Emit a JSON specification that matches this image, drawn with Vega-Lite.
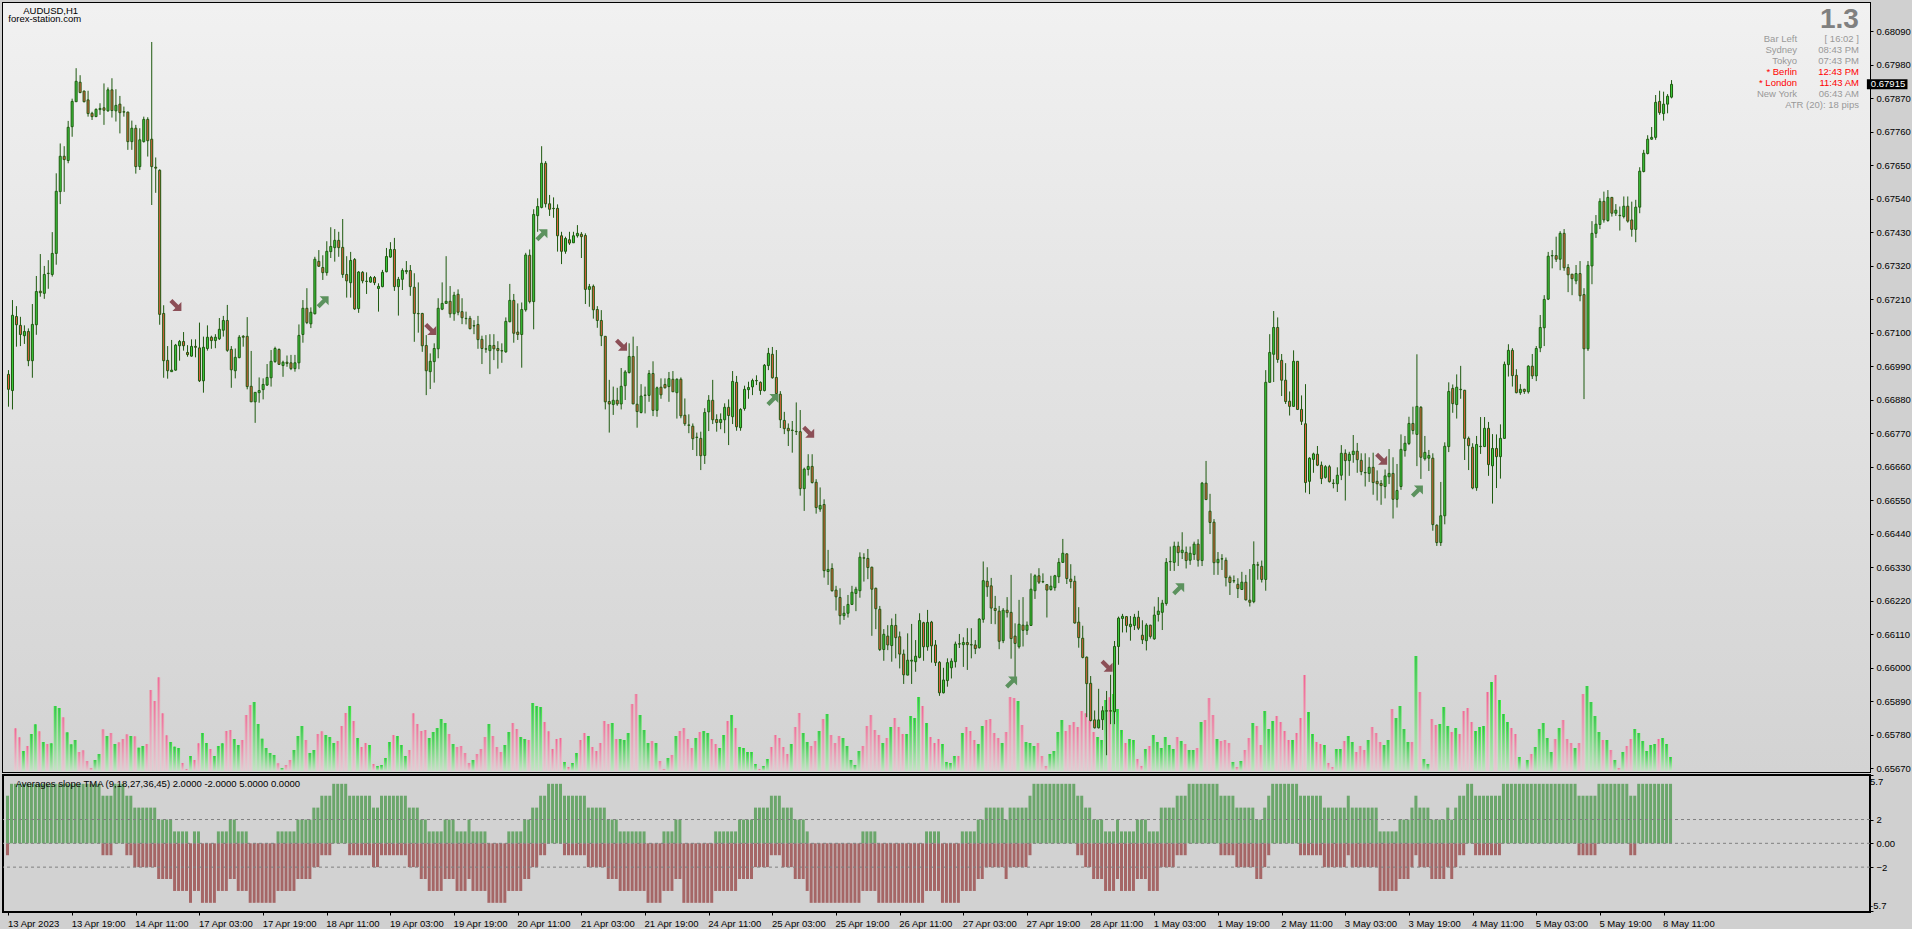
{"$schema":"https://vega.github.io/schema/vega-lite/v6.json","background":"#D0D0D0","padding":{"left":1,"top":2,"right":0,"bottom":0},"bounds":"flush","spacing":3,
"config":{"view":{"stroke":"#000000","strokeWidth":2},"font":"Liberation Sans","axis":{"labelOverlap":false}},
"datasets":{"d":[
{"i":0,"o":0.66963,"h":0.66977,"l":0.66857,"c":0.66914,"v":0,"u":4,"d":-1},
{"i":1,"o":0.66910,"h":0.67207,"l":0.66848,"c":0.67157,"v":0,"u":5,"d":0},
{"i":2,"o":0.67153,"h":0.67187,"l":0.67054,"c":0.67126,"v":127,"u":5,"d":0},
{"i":3,"o":0.67124,"h":0.67152,"l":0.67056,"c":0.67094,"v":100,"u":5,"d":0},
{"i":4,"o":0.67090,"h":0.67124,"l":0.67063,"c":0.67104,"v":59,"u":5,"d":0},
{"i":5,"o":0.67104,"h":0.67114,"l":0.66990,"c":0.67008,"v":74,"u":5,"d":0},
{"i":6,"o":0.67008,"h":0.67194,"l":0.66952,"c":0.67127,"v":110,"u":5,"d":0},
{"i":7,"o":0.67126,"h":0.67286,"l":0.67093,"c":0.67235,"v":139,"u":5,"d":0},
{"i":8,"o":0.67236,"h":0.67358,"l":0.67218,"c":0.67231,"v":118,"u":5,"d":0},
{"i":9,"o":0.67229,"h":0.67319,"l":0.67211,"c":0.67291,"v":86,"u":5,"d":0},
{"i":10,"o":0.67295,"h":0.67338,"l":0.67244,"c":0.67294,"v":80,"u":5,"d":0},
{"i":11,"o":0.67291,"h":0.67430,"l":0.67284,"c":0.67360,"v":82,"u":5,"d":0},
{"i":12,"o":0.67360,"h":0.67623,"l":0.67323,"c":0.67564,"v":194,"u":5,"d":0},
{"i":13,"o":0.67563,"h":0.67721,"l":0.67522,"c":0.67679,"v":188,"u":5,"d":0},
{"i":14,"o":0.67679,"h":0.67712,"l":0.67562,"c":0.67668,"v":160,"u":5,"d":0},
{"i":15,"o":0.67665,"h":0.67795,"l":0.67656,"c":0.67774,"v":115,"u":5,"d":0},
{"i":16,"o":0.67776,"h":0.67868,"l":0.67743,"c":0.67859,"v":79,"u":5,"d":0},
{"i":17,"o":0.67858,"h":0.67968,"l":0.67858,"c":0.67925,"v":92,"u":5,"d":0},
{"i":18,"o":0.67922,"h":0.67945,"l":0.67886,"c":0.67888,"v":56,"u":5,"d":0},
{"i":19,"o":0.67893,"h":0.67894,"l":0.67856,"c":0.67858,"v":61,"u":5,"d":0},
{"i":20,"o":0.67864,"h":0.67894,"l":0.67809,"c":0.67819,"v":29,"u":5,"d":0},
{"i":21,"o":0.67820,"h":0.67825,"l":0.67798,"c":0.67809,"v":8,"u":5,"d":0},
{"i":22,"o":0.67809,"h":0.67836,"l":0.67808,"c":0.67833,"v":32,"u":5,"d":0},
{"i":23,"o":0.67832,"h":0.67853,"l":0.67815,"c":0.67836,"v":50,"u":5,"d":0},
{"i":24,"o":0.67838,"h":0.67918,"l":0.67782,"c":0.67830,"v":124,"u":4,"d":-1},
{"i":25,"o":0.67828,"h":0.67905,"l":0.67825,"c":0.67897,"v":104,"u":4,"d":-1},
{"i":26,"o":0.67897,"h":0.67935,"l":0.67806,"c":0.67829,"v":113,"u":4,"d":-1},
{"i":27,"o":0.67828,"h":0.67899,"l":0.67793,"c":0.67846,"v":80,"u":5,"d":0},
{"i":28,"o":0.67850,"h":0.67877,"l":0.67754,"c":0.67822,"v":85,"u":5,"d":0},
{"i":29,"o":0.67825,"h":0.67842,"l":0.67809,"c":0.67824,"v":95,"u":5,"d":0},
{"i":30,"o":0.67824,"h":0.67825,"l":0.67700,"c":0.67727,"v":109,"u":4,"d":-1},
{"i":31,"o":0.67727,"h":0.67796,"l":0.67700,"c":0.67771,"v":104,"u":4,"d":-1},
{"i":32,"o":0.67771,"h":0.67782,"l":0.67622,"c":0.67645,"v":103,"u":3,"d":-2},
{"i":33,"o":0.67645,"h":0.67771,"l":0.67634,"c":0.67733,"v":69,"u":3,"d":-2},
{"i":34,"o":0.67727,"h":0.67809,"l":0.67724,"c":0.67800,"v":74,"u":3,"d":-2},
{"i":35,"o":0.67800,"h":0.67807,"l":0.67678,"c":0.67730,"v":80,"u":3,"d":-2},
{"i":36,"o":0.67735,"h":0.68054,"l":0.67519,"c":0.67645,"v":242,"u":3,"d":-2},
{"i":37,"o":0.67643,"h":0.67675,"l":0.67559,"c":0.67640,"v":209,"u":3,"d":-2},
{"i":38,"o":0.67633,"h":0.67636,"l":0.67126,"c":0.67160,"v":280,"u":2,"d":-3},
{"i":39,"o":0.67163,"h":0.67190,"l":0.66952,"c":0.67008,"v":172,"u":2,"d":-3},
{"i":40,"o":0.67009,"h":0.67056,"l":0.66949,"c":0.66975,"v":106,"u":2,"d":-3},
{"i":41,"o":0.66972,"h":0.67076,"l":0.66972,"c":0.66977,"v":86,"u":2,"d":-3},
{"i":42,"o":0.66977,"h":0.67063,"l":0.66975,"c":0.67059,"v":72,"u":1,"d":-4},
{"i":43,"o":0.67057,"h":0.67076,"l":0.67008,"c":0.67071,"v":68,"u":1,"d":-4},
{"i":44,"o":0.67071,"h":0.67102,"l":0.67041,"c":0.67057,"v":23,"u":1,"d":-4},
{"i":45,"o":0.67035,"h":0.67059,"l":0.67021,"c":0.67028,"v":5,"u":1,"d":-4},
{"i":46,"o":0.67023,"h":0.67078,"l":0.67021,"c":0.67055,"v":44,"u":0,"d":-5},
{"i":47,"o":0.67055,"h":0.67078,"l":0.67019,"c":0.67052,"v":32,"u":1,"d":-4},
{"i":48,"o":0.67050,"h":0.67133,"l":0.66938,"c":0.66942,"v":82,"u":1,"d":-4},
{"i":49,"o":0.66942,"h":0.67087,"l":0.66903,"c":0.67052,"v":113,"u":0,"d":-5},
{"i":50,"o":0.67048,"h":0.67124,"l":0.67041,"c":0.67085,"v":83,"u":0,"d":-5},
{"i":51,"o":0.67085,"h":0.67090,"l":0.67047,"c":0.67074,"v":65,"u":0,"d":-5},
{"i":52,"o":0.67074,"h":0.67095,"l":0.67049,"c":0.67085,"v":44,"u":0,"d":-5},
{"i":53,"o":0.67080,"h":0.67148,"l":0.67076,"c":0.67111,"v":74,"u":1,"d":-4},
{"i":54,"o":0.67108,"h":0.67155,"l":0.67087,"c":0.67140,"v":82,"u":1,"d":-4},
{"i":55,"o":0.67140,"h":0.67191,"l":0.67037,"c":0.67042,"v":119,"u":1,"d":-4},
{"i":56,"o":0.67045,"h":0.67056,"l":0.66919,"c":0.66978,"v":122,"u":2,"d":-3},
{"i":57,"o":0.66975,"h":0.67048,"l":0.66950,"c":0.67019,"v":95,"u":2,"d":-3},
{"i":58,"o":0.67018,"h":0.67092,"l":0.67016,"c":0.67085,"v":77,"u":1,"d":-4},
{"i":59,"o":0.67088,"h":0.67092,"l":0.67054,"c":0.67085,"v":92,"u":1,"d":-4},
{"i":60,"o":0.67088,"h":0.67151,"l":0.66914,"c":0.66923,"v":167,"u":1,"d":-4},
{"i":61,"o":0.66924,"h":0.67040,"l":0.66873,"c":0.66873,"v":197,"u":0,"d":-5},
{"i":62,"o":0.66873,"h":0.66904,"l":0.66804,"c":0.66904,"v":206,"u":0,"d":-5},
{"i":63,"o":0.66903,"h":0.66953,"l":0.66870,"c":0.66910,"v":140,"u":0,"d":-5},
{"i":64,"o":0.66913,"h":0.66950,"l":0.66881,"c":0.66930,"v":96,"u":0,"d":-5},
{"i":65,"o":0.66928,"h":0.66997,"l":0.66925,"c":0.66953,"v":68,"u":0,"d":-5},
{"i":66,"o":0.66952,"h":0.67043,"l":0.66923,"c":0.67006,"v":53,"u":0,"d":-5},
{"i":67,"o":0.67005,"h":0.67054,"l":0.67001,"c":0.67048,"v":47,"u":0,"d":-5},
{"i":68,"o":0.67045,"h":0.67048,"l":0.66994,"c":0.66996,"v":22,"u":1,"d":-4},
{"i":69,"o":0.66992,"h":0.67008,"l":0.66955,"c":0.67003,"v":8,"u":1,"d":-4},
{"i":70,"o":0.67003,"h":0.67025,"l":0.66988,"c":0.66999,"v":17,"u":1,"d":-4},
{"i":71,"o":0.67001,"h":0.67027,"l":0.66977,"c":0.66982,"v":32,"u":1,"d":-4},
{"i":72,"o":0.66982,"h":0.67027,"l":0.66972,"c":0.67001,"v":62,"u":1,"d":-4},
{"i":73,"o":0.67001,"h":0.67127,"l":0.66980,"c":0.67091,"v":104,"u":2,"d":-3},
{"i":74,"o":0.67094,"h":0.67207,"l":0.67067,"c":0.67180,"v":134,"u":2,"d":-3},
{"i":75,"o":0.67180,"h":0.67246,"l":0.67128,"c":0.67133,"v":92,"u":2,"d":-3},
{"i":76,"o":0.67129,"h":0.67183,"l":0.67115,"c":0.67167,"v":53,"u":2,"d":-3},
{"i":77,"o":0.67162,"h":0.67349,"l":0.67160,"c":0.67341,"v":62,"u":3,"d":-2},
{"i":78,"o":0.67334,"h":0.67371,"l":0.67316,"c":0.67318,"v":110,"u":3,"d":-2},
{"i":79,"o":0.67314,"h":0.67354,"l":0.67273,"c":0.67297,"v":118,"u":4,"d":-1},
{"i":80,"o":0.67297,"h":0.67400,"l":0.67287,"c":0.67367,"v":107,"u":4,"d":-1},
{"i":81,"o":0.67366,"h":0.67446,"l":0.67345,"c":0.67383,"v":101,"u":4,"d":-1},
{"i":82,"o":0.67379,"h":0.67440,"l":0.67333,"c":0.67403,"v":83,"u":5,"d":0},
{"i":83,"o":0.67403,"h":0.67431,"l":0.67349,"c":0.67379,"v":89,"u":5,"d":0},
{"i":84,"o":0.67380,"h":0.67473,"l":0.67280,"c":0.67291,"v":134,"u":5,"d":0},
{"i":85,"o":0.67291,"h":0.67351,"l":0.67215,"c":0.67270,"v":173,"u":5,"d":0},
{"i":86,"o":0.67264,"h":0.67365,"l":0.67215,"c":0.67337,"v":194,"u":4,"d":-1},
{"i":87,"o":0.67340,"h":0.67345,"l":0.67175,"c":0.67178,"v":149,"u":4,"d":-1},
{"i":88,"o":0.67179,"h":0.67302,"l":0.67165,"c":0.67299,"v":98,"u":4,"d":-1},
{"i":89,"o":0.67298,"h":0.67302,"l":0.67262,"c":0.67270,"v":71,"u":4,"d":-1},
{"i":90,"o":0.67269,"h":0.67298,"l":0.67227,"c":0.67268,"v":83,"u":4,"d":-1},
{"i":91,"o":0.67266,"h":0.67286,"l":0.67264,"c":0.67281,"v":77,"u":4,"d":-1},
{"i":92,"o":0.67281,"h":0.67286,"l":0.67256,"c":0.67264,"v":20,"u":3,"d":-2},
{"i":93,"o":0.67245,"h":0.67262,"l":0.67169,"c":0.67252,"v":14,"u":3,"d":-2},
{"i":94,"o":0.67251,"h":0.67306,"l":0.67249,"c":0.67298,"v":17,"u":4,"d":-1},
{"i":95,"o":0.67300,"h":0.67378,"l":0.67298,"c":0.67350,"v":38,"u":4,"d":-1},
{"i":96,"o":0.67348,"h":0.67397,"l":0.67346,"c":0.67373,"v":86,"u":4,"d":-1},
{"i":97,"o":0.67373,"h":0.67411,"l":0.67237,"c":0.67251,"v":107,"u":4,"d":-1},
{"i":98,"o":0.67251,"h":0.67283,"l":0.67156,"c":0.67275,"v":104,"u":4,"d":-1},
{"i":99,"o":0.67275,"h":0.67311,"l":0.67240,"c":0.67304,"v":77,"u":4,"d":-1},
{"i":100,"o":0.67300,"h":0.67335,"l":0.67292,"c":0.67304,"v":44,"u":4,"d":-1},
{"i":101,"o":0.67304,"h":0.67322,"l":0.67221,"c":0.67251,"v":62,"u":3,"d":-2},
{"i":102,"o":0.67249,"h":0.67295,"l":0.67070,"c":0.67163,"v":172,"u":3,"d":-2},
{"i":103,"o":0.67163,"h":0.67265,"l":0.67100,"c":0.67162,"v":140,"u":3,"d":-2},
{"i":104,"o":0.67163,"h":0.67165,"l":0.67037,"c":0.67057,"v":119,"u":2,"d":-3},
{"i":105,"o":0.67058,"h":0.67092,"l":0.66895,"c":0.66975,"v":122,"u":2,"d":-3},
{"i":106,"o":0.66972,"h":0.67032,"l":0.66915,"c":0.67006,"v":98,"u":1,"d":-4},
{"i":107,"o":0.67005,"h":0.67065,"l":0.66936,"c":0.67048,"v":116,"u":1,"d":-4},
{"i":108,"o":0.67047,"h":0.67213,"l":0.67016,"c":0.67180,"v":128,"u":1,"d":-4},
{"i":109,"o":0.67177,"h":0.67265,"l":0.67174,"c":0.67196,"v":155,"u":1,"d":-4},
{"i":110,"o":0.67196,"h":0.67351,"l":0.67196,"c":0.67203,"v":143,"u":2,"d":-3},
{"i":111,"o":0.67203,"h":0.67253,"l":0.67149,"c":0.67162,"v":110,"u":2,"d":-3},
{"i":112,"o":0.67162,"h":0.67234,"l":0.67139,"c":0.67223,"v":80,"u":2,"d":-3},
{"i":113,"o":0.67226,"h":0.67242,"l":0.67157,"c":0.67167,"v":71,"u":1,"d":-4},
{"i":114,"o":0.67169,"h":0.67213,"l":0.67128,"c":0.67149,"v":74,"u":1,"d":-4},
{"i":115,"o":0.67147,"h":0.67169,"l":0.67127,"c":0.67146,"v":53,"u":1,"d":-4},
{"i":116,"o":0.67147,"h":0.67155,"l":0.67111,"c":0.67113,"v":23,"u":2,"d":-3},
{"i":117,"o":0.67122,"h":0.67141,"l":0.67095,"c":0.67123,"v":32,"u":1,"d":-4},
{"i":118,"o":0.67127,"h":0.67155,"l":0.67047,"c":0.67077,"v":50,"u":1,"d":-4},
{"i":119,"o":0.67078,"h":0.67090,"l":0.66997,"c":0.67048,"v":65,"u":1,"d":-4},
{"i":120,"o":0.67047,"h":0.67092,"l":0.67034,"c":0.67046,"v":101,"u":1,"d":-4},
{"i":121,"o":0.67041,"h":0.67095,"l":0.66964,"c":0.67058,"v":140,"u":0,"d":-5},
{"i":122,"o":0.67058,"h":0.67095,"l":0.67010,"c":0.67047,"v":104,"u":0,"d":-5},
{"i":123,"o":0.67048,"h":0.67072,"l":0.66982,"c":0.67041,"v":71,"u":0,"d":-5},
{"i":124,"o":0.67041,"h":0.67065,"l":0.67001,"c":0.67040,"v":56,"u":0,"d":-5},
{"i":125,"o":0.67037,"h":0.67150,"l":0.67034,"c":0.67137,"v":77,"u":0,"d":-5},
{"i":126,"o":0.67136,"h":0.67260,"l":0.67134,"c":0.67206,"v":116,"u":1,"d":-4},
{"i":127,"o":0.67206,"h":0.67227,"l":0.67067,"c":0.67098,"v":143,"u":1,"d":-4},
{"i":128,"o":0.67102,"h":0.67196,"l":0.67076,"c":0.67094,"v":125,"u":1,"d":-4},
{"i":129,"o":0.67094,"h":0.67199,"l":0.66985,"c":0.67176,"v":101,"u":1,"d":-4},
{"i":130,"o":0.67175,"h":0.67362,"l":0.67169,"c":0.67355,"v":95,"u":2,"d":-3},
{"i":131,"o":0.67354,"h":0.67373,"l":0.67196,"c":0.67202,"v":92,"u":2,"d":-3},
{"i":132,"o":0.67202,"h":0.67505,"l":0.67111,"c":0.67488,"v":203,"u":3,"d":-2},
{"i":133,"o":0.67484,"h":0.67541,"l":0.67431,"c":0.67514,"v":194,"u":3,"d":-2},
{"i":134,"o":0.67511,"h":0.67712,"l":0.67508,"c":0.67656,"v":191,"u":4,"d":-1},
{"i":135,"o":0.67656,"h":0.67663,"l":0.67511,"c":0.67523,"v":146,"u":4,"d":-1},
{"i":136,"o":0.67523,"h":0.67552,"l":0.67483,"c":0.67505,"v":118,"u":5,"d":0},
{"i":137,"o":0.67508,"h":0.67544,"l":0.67477,"c":0.67507,"v":65,"u":5,"d":0},
{"i":138,"o":0.67508,"h":0.67521,"l":0.67366,"c":0.67418,"v":95,"u":5,"d":0},
{"i":139,"o":0.67418,"h":0.67431,"l":0.67325,"c":0.67367,"v":98,"u":5,"d":0},
{"i":140,"o":0.67367,"h":0.67415,"l":0.67359,"c":0.67409,"v":26,"u":4,"d":-1},
{"i":141,"o":0.67405,"h":0.67431,"l":0.67388,"c":0.67394,"v":11,"u":4,"d":-1},
{"i":142,"o":0.67395,"h":0.67431,"l":0.67395,"c":0.67418,"v":23,"u":4,"d":-1},
{"i":143,"o":0.67418,"h":0.67453,"l":0.67412,"c":0.67426,"v":53,"u":4,"d":-1},
{"i":144,"o":0.67423,"h":0.67430,"l":0.67345,"c":0.67415,"v":92,"u":4,"d":-1},
{"i":145,"o":0.67419,"h":0.67426,"l":0.67194,"c":0.67242,"v":113,"u":4,"d":-1},
{"i":146,"o":0.67242,"h":0.67260,"l":0.67185,"c":0.67251,"v":104,"u":3,"d":-2},
{"i":147,"o":0.67252,"h":0.67258,"l":0.67146,"c":0.67175,"v":71,"u":3,"d":-2},
{"i":148,"o":0.67176,"h":0.67187,"l":0.67116,"c":0.67140,"v":59,"u":3,"d":-2},
{"i":149,"o":0.67140,"h":0.67174,"l":0.67056,"c":0.67090,"v":83,"u":3,"d":-2},
{"i":150,"o":0.67088,"h":0.67088,"l":0.66848,"c":0.66873,"v":149,"u":3,"d":-2},
{"i":151,"o":0.66874,"h":0.66945,"l":0.66772,"c":0.66866,"v":140,"u":2,"d":-3},
{"i":152,"o":0.66864,"h":0.66923,"l":0.66830,"c":0.66878,"v":143,"u":2,"d":-3},
{"i":153,"o":0.66878,"h":0.66919,"l":0.66860,"c":0.66866,"v":95,"u":2,"d":-3},
{"i":154,"o":0.66866,"h":0.66984,"l":0.66848,"c":0.66924,"v":95,"u":1,"d":-4},
{"i":155,"o":0.66926,"h":0.66977,"l":0.66879,"c":0.66971,"v":92,"u":1,"d":-4},
{"i":156,"o":0.66969,"h":0.67065,"l":0.66966,"c":0.67022,"v":113,"u":1,"d":-4},
{"i":157,"o":0.67022,"h":0.67087,"l":0.66866,"c":0.66866,"v":200,"u":1,"d":-4},
{"i":158,"o":0.66865,"h":0.67056,"l":0.66788,"c":0.66841,"v":230,"u":1,"d":-4},
{"i":159,"o":0.66838,"h":0.66931,"l":0.66835,"c":0.66892,"v":167,"u":1,"d":-4},
{"i":160,"o":0.66894,"h":0.66923,"l":0.66835,"c":0.66895,"v":122,"u":1,"d":-4},
{"i":161,"o":0.66894,"h":0.66977,"l":0.66873,"c":0.66966,"v":83,"u":0,"d":-5},
{"i":162,"o":0.66966,"h":0.67006,"l":0.66826,"c":0.66845,"v":89,"u":0,"d":-5},
{"i":163,"o":0.66845,"h":0.66923,"l":0.66824,"c":0.66919,"v":83,"u":0,"d":-5},
{"i":164,"o":0.66921,"h":0.66950,"l":0.66883,"c":0.66896,"v":29,"u":0,"d":-5},
{"i":165,"o":0.66930,"h":0.66950,"l":0.66917,"c":0.66919,"v":5,"u":1,"d":-4},
{"i":166,"o":0.66923,"h":0.66971,"l":0.66873,"c":0.66949,"v":38,"u":1,"d":-4},
{"i":167,"o":0.66947,"h":0.66974,"l":0.66906,"c":0.66906,"v":47,"u":1,"d":-4},
{"i":168,"o":0.66903,"h":0.66950,"l":0.66818,"c":0.66947,"v":104,"u":2,"d":-3},
{"i":169,"o":0.66947,"h":0.66953,"l":0.66819,"c":0.66827,"v":119,"u":2,"d":-3},
{"i":170,"o":0.66829,"h":0.66884,"l":0.66794,"c":0.66801,"v":128,"u":0,"d":-5},
{"i":171,"o":0.66797,"h":0.66832,"l":0.66770,"c":0.66796,"v":95,"u":0,"d":-5},
{"i":172,"o":0.66793,"h":0.66802,"l":0.66715,"c":0.66752,"v":68,"u":0,"d":-5},
{"i":173,"o":0.66756,"h":0.66772,"l":0.66695,"c":0.66757,"v":98,"u":0,"d":-5},
{"i":174,"o":0.66753,"h":0.66775,"l":0.66649,"c":0.66696,"v":116,"u":0,"d":-5},
{"i":175,"o":0.66697,"h":0.66852,"l":0.66669,"c":0.66838,"v":119,"u":0,"d":-5},
{"i":176,"o":0.66840,"h":0.66895,"l":0.66777,"c":0.66878,"v":113,"u":0,"d":-5},
{"i":177,"o":0.66878,"h":0.66945,"l":0.66800,"c":0.66814,"v":95,"u":0,"d":-5},
{"i":178,"o":0.66815,"h":0.66832,"l":0.66775,"c":0.66805,"v":80,"u":1,"d":-4},
{"i":179,"o":0.66805,"h":0.66835,"l":0.66783,"c":0.66815,"v":68,"u":1,"d":-4},
{"i":180,"o":0.66814,"h":0.66868,"l":0.66770,"c":0.66855,"v":107,"u":1,"d":-4},
{"i":181,"o":0.66855,"h":0.66881,"l":0.66731,"c":0.66828,"v":149,"u":1,"d":-4},
{"i":182,"o":0.66824,"h":0.66974,"l":0.66800,"c":0.66940,"v":167,"u":1,"d":-4},
{"i":183,"o":0.66937,"h":0.66958,"l":0.66778,"c":0.66791,"v":128,"u":1,"d":-4},
{"i":184,"o":0.66788,"h":0.66852,"l":0.66778,"c":0.66848,"v":71,"u":2,"d":-3},
{"i":185,"o":0.66851,"h":0.66926,"l":0.66844,"c":0.66914,"v":68,"u":2,"d":-3},
{"i":186,"o":0.66913,"h":0.66939,"l":0.66883,"c":0.66920,"v":56,"u":2,"d":-3},
{"i":187,"o":0.66922,"h":0.66949,"l":0.66895,"c":0.66943,"v":56,"u":2,"d":-3},
{"i":188,"o":0.66942,"h":0.66960,"l":0.66928,"c":0.66943,"v":20,"u":3,"d":-2},
{"i":189,"o":0.66937,"h":0.66940,"l":0.66896,"c":0.66910,"v":5,"u":3,"d":-2},
{"i":190,"o":0.66910,"h":0.66997,"l":0.66907,"c":0.66993,"v":14,"u":3,"d":-2},
{"i":191,"o":0.66992,"h":0.67050,"l":0.66977,"c":0.67032,"v":35,"u":3,"d":-2},
{"i":192,"o":0.67029,"h":0.67053,"l":0.66949,"c":0.66952,"v":71,"u":4,"d":-1},
{"i":193,"o":0.66953,"h":0.67043,"l":0.66896,"c":0.66900,"v":107,"u":4,"d":-1},
{"i":194,"o":0.66898,"h":0.66908,"l":0.66787,"c":0.66814,"v":98,"u":4,"d":-1},
{"i":195,"o":0.66812,"h":0.66840,"l":0.66767,"c":0.66785,"v":71,"u":3,"d":-2},
{"i":196,"o":0.66786,"h":0.66802,"l":0.66728,"c":0.66778,"v":50,"u":3,"d":-2},
{"i":197,"o":0.66779,"h":0.66810,"l":0.66706,"c":0.66780,"v":80,"u":3,"d":-2},
{"i":198,"o":0.66776,"h":0.66871,"l":0.66764,"c":0.66775,"v":131,"u":2,"d":-3},
{"i":199,"o":0.66775,"h":0.66846,"l":0.66565,"c":0.66588,"v":173,"u":2,"d":-3},
{"i":200,"o":0.66588,"h":0.66657,"l":0.66515,"c":0.66652,"v":113,"u":2,"d":-3},
{"i":201,"o":0.66651,"h":0.66701,"l":0.66631,"c":0.66661,"v":86,"u":1,"d":-4},
{"i":202,"o":0.66661,"h":0.66701,"l":0.66605,"c":0.66608,"v":74,"u":0,"d":-5},
{"i":203,"o":0.66609,"h":0.66619,"l":0.66506,"c":0.66526,"v":89,"u":0,"d":-5},
{"i":204,"o":0.66521,"h":0.66592,"l":0.66512,"c":0.66533,"v":119,"u":0,"d":-5},
{"i":205,"o":0.66536,"h":0.66553,"l":0.66296,"c":0.66319,"v":155,"u":0,"d":-5},
{"i":206,"o":0.66316,"h":0.66387,"l":0.66272,"c":0.66323,"v":170,"u":0,"d":-5},
{"i":207,"o":0.66326,"h":0.66343,"l":0.66250,"c":0.66253,"v":107,"u":0,"d":-5},
{"i":208,"o":0.66255,"h":0.66269,"l":0.66188,"c":0.66233,"v":83,"u":0,"d":-5},
{"i":209,"o":0.66231,"h":0.66261,"l":0.66142,"c":0.66171,"v":104,"u":0,"d":-5},
{"i":210,"o":0.66171,"h":0.66203,"l":0.66157,"c":0.66179,"v":98,"u":0,"d":-5},
{"i":211,"o":0.66179,"h":0.66239,"l":0.66165,"c":0.66208,"v":74,"u":0,"d":-5},
{"i":212,"o":0.66208,"h":0.66269,"l":0.66206,"c":0.66248,"v":32,"u":0,"d":-5},
{"i":213,"o":0.66244,"h":0.66266,"l":0.66186,"c":0.66258,"v":17,"u":0,"d":-5},
{"i":214,"o":0.66253,"h":0.66379,"l":0.66230,"c":0.66363,"v":59,"u":0,"d":-5},
{"i":215,"o":0.66361,"h":0.66376,"l":0.66283,"c":0.66360,"v":74,"u":1,"d":-4},
{"i":216,"o":0.66359,"h":0.66390,"l":0.66291,"c":0.66329,"v":134,"u":1,"d":-4},
{"i":217,"o":0.66330,"h":0.66332,"l":0.66105,"c":0.66258,"v":167,"u":1,"d":-4},
{"i":218,"o":0.66261,"h":0.66263,"l":0.66127,"c":0.66194,"v":122,"u":1,"d":-4},
{"i":219,"o":0.66192,"h":0.66203,"l":0.66055,"c":0.66060,"v":107,"u":0,"d":-5},
{"i":220,"o":0.66060,"h":0.66127,"l":0.66023,"c":0.66110,"v":83,"u":0,"d":-5},
{"i":221,"o":0.66104,"h":0.66140,"l":0.66058,"c":0.66075,"v":98,"u":0,"d":-5},
{"i":222,"o":0.66073,"h":0.66162,"l":0.66020,"c":0.66139,"v":131,"u":0,"d":-5},
{"i":223,"o":0.66139,"h":0.66177,"l":0.66031,"c":0.66099,"v":158,"u":0,"d":-5},
{"i":224,"o":0.66102,"h":0.66119,"l":0.65998,"c":0.66045,"v":131,"u":0,"d":-5},
{"i":225,"o":0.66045,"h":0.66060,"l":0.65947,"c":0.65977,"v":110,"u":0,"d":-5},
{"i":226,"o":0.65976,"h":0.66113,"l":0.65976,"c":0.66025,"v":110,"u":0,"d":-5},
{"i":227,"o":0.66022,"h":0.66144,"l":0.65947,"c":0.66025,"v":164,"u":0,"d":-5},
{"i":228,"o":0.66020,"h":0.66091,"l":0.65987,"c":0.66038,"v":158,"u":0,"d":-5},
{"i":229,"o":0.66034,"h":0.66179,"l":0.66031,"c":0.66155,"v":221,"u":0,"d":-5},
{"i":230,"o":0.66148,"h":0.66151,"l":0.66023,"c":0.66069,"v":194,"u":0,"d":-5},
{"i":231,"o":0.66069,"h":0.66190,"l":0.66056,"c":0.66149,"v":143,"u":1,"d":-4},
{"i":232,"o":0.66150,"h":0.66154,"l":0.66017,"c":0.66072,"v":101,"u":1,"d":-4},
{"i":233,"o":0.66075,"h":0.66091,"l":0.66006,"c":0.66017,"v":83,"u":1,"d":-4},
{"i":234,"o":0.66018,"h":0.66022,"l":0.65908,"c":0.65918,"v":95,"u":1,"d":-4},
{"i":235,"o":0.65918,"h":0.66000,"l":0.65916,"c":0.65960,"v":80,"u":0,"d":-5},
{"i":236,"o":0.65958,"h":0.66031,"l":0.65938,"c":0.66017,"v":26,"u":0,"d":-5},
{"i":237,"o":0.66000,"h":0.66031,"l":0.65965,"c":0.66022,"v":23,"u":0,"d":-5},
{"i":238,"o":0.66020,"h":0.66086,"l":0.66001,"c":0.66078,"v":44,"u":0,"d":-5},
{"i":239,"o":0.66079,"h":0.66111,"l":0.66065,"c":0.66078,"v":44,"u":0,"d":-5},
{"i":240,"o":0.66076,"h":0.66100,"l":0.66003,"c":0.66083,"v":113,"u":1,"d":-4},
{"i":241,"o":0.66083,"h":0.66130,"l":0.65993,"c":0.66076,"v":131,"u":1,"d":-4},
{"i":242,"o":0.66076,"h":0.66130,"l":0.66031,"c":0.66075,"v":119,"u":1,"d":-4},
{"i":243,"o":0.66075,"h":0.66091,"l":0.66045,"c":0.66063,"v":92,"u":1,"d":-4},
{"i":244,"o":0.66066,"h":0.66163,"l":0.66063,"c":0.66160,"v":80,"u":2,"d":-3},
{"i":245,"o":0.66159,"h":0.66349,"l":0.66148,"c":0.66286,"v":134,"u":2,"d":-3},
{"i":246,"o":0.66284,"h":0.66330,"l":0.66233,"c":0.66266,"v":152,"u":3,"d":-2},
{"i":247,"o":0.66269,"h":0.66295,"l":0.66144,"c":0.66196,"v":155,"u":3,"d":-2},
{"i":248,"o":0.66195,"h":0.66236,"l":0.66143,"c":0.66188,"v":113,"u":3,"d":-2},
{"i":249,"o":0.66186,"h":0.66203,"l":0.66061,"c":0.66087,"v":98,"u":3,"d":-2},
{"i":250,"o":0.66089,"h":0.66196,"l":0.66081,"c":0.66189,"v":83,"u":3,"d":-2},
{"i":251,"o":0.66189,"h":0.66232,"l":0.66165,"c":0.66181,"v":116,"u":2,"d":-3},
{"i":252,"o":0.66182,"h":0.66305,"l":0.66030,"c":0.66096,"v":221,"u":3,"d":-2},
{"i":253,"o":0.66104,"h":0.66146,"l":0.65969,"c":0.66080,"v":218,"u":3,"d":-2},
{"i":254,"o":0.66069,"h":0.66223,"l":0.66063,"c":0.66143,"v":209,"u":3,"d":-2},
{"i":255,"o":0.66140,"h":0.66232,"l":0.66070,"c":0.66123,"v":137,"u":3,"d":-2},
{"i":256,"o":0.66123,"h":0.66152,"l":0.66108,"c":0.66140,"v":86,"u":3,"d":-2},
{"i":257,"o":0.66139,"h":0.66310,"l":0.66138,"c":0.66258,"v":83,"u":4,"d":-1},
{"i":258,"o":0.66253,"h":0.66307,"l":0.66226,"c":0.66302,"v":74,"u":5,"d":0},
{"i":259,"o":0.66302,"h":0.66327,"l":0.66275,"c":0.66281,"v":83,"u":5,"d":0},
{"i":260,"o":0.66283,"h":0.66310,"l":0.66278,"c":0.66282,"v":44,"u":5,"d":0},
{"i":261,"o":0.66273,"h":0.66273,"l":0.66165,"c":0.66255,"v":14,"u":5,"d":0},
{"i":262,"o":0.66257,"h":0.66302,"l":0.66253,"c":0.66268,"v":50,"u":5,"d":0},
{"i":263,"o":0.66263,"h":0.66305,"l":0.66253,"c":0.66302,"v":59,"u":5,"d":0},
{"i":264,"o":0.66299,"h":0.66360,"l":0.66278,"c":0.66346,"v":116,"u":5,"d":0},
{"i":265,"o":0.66346,"h":0.66423,"l":0.66344,"c":0.66376,"v":152,"u":5,"d":0},
{"i":266,"o":0.66374,"h":0.66376,"l":0.66275,"c":0.66293,"v":119,"u":5,"d":0},
{"i":267,"o":0.66291,"h":0.66340,"l":0.66261,"c":0.66283,"v":137,"u":5,"d":0},
{"i":268,"o":0.66284,"h":0.66302,"l":0.66145,"c":0.66147,"v":146,"u":5,"d":0},
{"i":269,"o":0.66150,"h":0.66199,"l":0.66066,"c":0.66099,"v":131,"u":4,"d":-1},
{"i":270,"o":0.66097,"h":0.66138,"l":0.66031,"c":0.66034,"v":179,"u":4,"d":-1},
{"i":271,"o":0.66035,"h":0.66037,"l":0.65838,"c":0.65948,"v":172,"u":3,"d":-2},
{"i":272,"o":0.65949,"h":0.65973,"l":0.65824,"c":0.65827,"v":151,"u":3,"d":-2},
{"i":273,"o":0.65829,"h":0.65860,"l":0.65801,"c":0.65803,"v":116,"u":2,"d":-3},
{"i":274,"o":0.65803,"h":0.65931,"l":0.65801,"c":0.65829,"v":101,"u":2,"d":-3},
{"i":275,"o":0.65830,"h":0.65874,"l":0.65796,"c":0.65859,"v":92,"u":2,"d":-3},
{"i":276,"o":0.65858,"h":0.65924,"l":0.65713,"c":0.65859,"v":212,"u":1,"d":-4},
{"i":277,"o":0.65859,"h":0.65977,"l":0.65815,"c":0.65858,"v":220,"u":1,"d":-4},
{"i":278,"o":0.65856,"h":0.66088,"l":0.65815,"c":0.66070,"v":230,"u":1,"d":-4},
{"i":279,"o":0.66070,"h":0.66168,"l":0.66010,"c":0.66163,"v":185,"u":2,"d":-3},
{"i":280,"o":0.66162,"h":0.66177,"l":0.66116,"c":0.66169,"v":122,"u":1,"d":-4},
{"i":281,"o":0.66168,"h":0.66170,"l":0.66116,"c":0.66139,"v":83,"u":1,"d":-4},
{"i":282,"o":0.66135,"h":0.66170,"l":0.66089,"c":0.66143,"v":95,"u":1,"d":-4},
{"i":283,"o":0.66139,"h":0.66177,"l":0.66124,"c":0.66166,"v":92,"u":1,"d":-4},
{"i":284,"o":0.66166,"h":0.66187,"l":0.66124,"c":0.66130,"v":35,"u":2,"d":-3},
{"i":285,"o":0.66107,"h":0.66156,"l":0.66078,"c":0.66092,"v":14,"u":2,"d":-3},
{"i":286,"o":0.66089,"h":0.66146,"l":0.66057,"c":0.66140,"v":65,"u":2,"d":-3},
{"i":287,"o":0.66140,"h":0.66141,"l":0.66096,"c":0.66103,"v":74,"u":1,"d":-4},
{"i":288,"o":0.66095,"h":0.66201,"l":0.66092,"c":0.66173,"v":107,"u":1,"d":-4},
{"i":289,"o":0.66175,"h":0.66232,"l":0.66152,"c":0.66186,"v":86,"u":1,"d":-4},
{"i":290,"o":0.66182,"h":0.66223,"l":0.66124,"c":0.66212,"v":68,"u":3,"d":-2},
{"i":291,"o":0.66211,"h":0.66360,"l":0.66204,"c":0.66346,"v":101,"u":3,"d":-2},
{"i":292,"o":0.66348,"h":0.66398,"l":0.66318,"c":0.66349,"v":77,"u":3,"d":-2},
{"i":293,"o":0.66346,"h":0.66414,"l":0.66318,"c":0.66399,"v":65,"u":3,"d":-2},
{"i":294,"o":0.66399,"h":0.66414,"l":0.66334,"c":0.66378,"v":101,"u":4,"d":-1},
{"i":295,"o":0.66378,"h":0.66445,"l":0.66357,"c":0.66386,"v":89,"u":4,"d":-1},
{"i":296,"o":0.66379,"h":0.66398,"l":0.66326,"c":0.66352,"v":80,"u":4,"d":-1},
{"i":297,"o":0.66353,"h":0.66398,"l":0.66338,"c":0.66376,"v":62,"u":5,"d":0},
{"i":298,"o":0.66372,"h":0.66414,"l":0.66354,"c":0.66406,"v":62,"u":5,"d":0},
{"i":299,"o":0.66406,"h":0.66422,"l":0.66332,"c":0.66353,"v":68,"u":5,"d":0},
{"i":300,"o":0.66352,"h":0.66610,"l":0.66334,"c":0.66606,"v":146,"u":5,"d":0},
{"i":301,"o":0.66606,"h":0.66679,"l":0.66551,"c":0.66552,"v":152,"u":5,"d":0},
{"i":302,"o":0.66514,"h":0.66571,"l":0.66439,"c":0.66477,"v":218,"u":5,"d":0},
{"i":303,"o":0.66478,"h":0.66488,"l":0.66305,"c":0.66345,"v":167,"u":5,"d":0},
{"i":304,"o":0.66345,"h":0.66380,"l":0.66305,"c":0.66356,"v":95,"u":5,"d":0},
{"i":305,"o":0.66358,"h":0.66373,"l":0.66321,"c":0.66357,"v":89,"u":4,"d":-1},
{"i":306,"o":0.66353,"h":0.66362,"l":0.66267,"c":0.66296,"v":92,"u":4,"d":-1},
{"i":307,"o":0.66297,"h":0.66303,"l":0.66239,"c":0.66280,"v":83,"u":4,"d":-1},
{"i":308,"o":0.66285,"h":0.66303,"l":0.66278,"c":0.66286,"v":26,"u":4,"d":-1},
{"i":309,"o":0.66274,"h":0.66294,"l":0.66229,"c":0.66260,"v":11,"u":3,"d":-2},
{"i":310,"o":0.66257,"h":0.66315,"l":0.66256,"c":0.66281,"v":29,"u":3,"d":-2},
{"i":311,"o":0.66281,"h":0.66305,"l":0.66221,"c":0.66223,"v":62,"u":3,"d":-2},
{"i":312,"o":0.66222,"h":0.66324,"l":0.66201,"c":0.66215,"v":98,"u":3,"d":-2},
{"i":313,"o":0.66217,"h":0.66415,"l":0.66212,"c":0.66339,"v":143,"u":3,"d":-2},
{"i":314,"o":0.66338,"h":0.66348,"l":0.66289,"c":0.66337,"v":134,"u":2,"d":-3},
{"i":315,"o":0.66333,"h":0.66352,"l":0.66280,"c":0.66290,"v":77,"u":2,"d":-3},
{"i":316,"o":0.66290,"h":0.66977,"l":0.66253,"c":0.66937,"v":179,"u":3,"d":-2},
{"i":317,"o":0.66937,"h":0.67095,"l":0.66937,"c":0.67035,"v":125,"u":4,"d":-1},
{"i":318,"o":0.67029,"h":0.67171,"l":0.66938,"c":0.67117,"v":149,"u":5,"d":0},
{"i":319,"o":0.67117,"h":0.67150,"l":0.67001,"c":0.67012,"v":164,"u":5,"d":0},
{"i":320,"o":0.67009,"h":0.67030,"l":0.66892,"c":0.66944,"v":146,"u":5,"d":0},
{"i":321,"o":0.66944,"h":0.67000,"l":0.66866,"c":0.66874,"v":119,"u":5,"d":0},
{"i":322,"o":0.66875,"h":0.66907,"l":0.66828,"c":0.66858,"v":92,"u":5,"d":0},
{"i":323,"o":0.66858,"h":0.67042,"l":0.66857,"c":0.67006,"v":92,"u":5,"d":0},
{"i":324,"o":0.67006,"h":0.67006,"l":0.66846,"c":0.66848,"v":113,"u":5,"d":0},
{"i":325,"o":0.66848,"h":0.66894,"l":0.66797,"c":0.66809,"v":158,"u":4,"d":-1},
{"i":326,"o":0.66801,"h":0.66931,"l":0.66575,"c":0.66608,"v":287,"u":4,"d":-1},
{"i":327,"o":0.66612,"h":0.66691,"l":0.66570,"c":0.66688,"v":176,"u":4,"d":-1},
{"i":328,"o":0.66684,"h":0.66706,"l":0.66640,"c":0.66702,"v":110,"u":4,"d":-1},
{"i":329,"o":0.66701,"h":0.66728,"l":0.66662,"c":0.66665,"v":86,"u":4,"d":-1},
{"i":330,"o":0.66665,"h":0.66677,"l":0.66603,"c":0.66621,"v":80,"u":4,"d":-1},
{"i":331,"o":0.66625,"h":0.66665,"l":0.66621,"c":0.66660,"v":77,"u":3,"d":-2},
{"i":332,"o":0.66660,"h":0.66666,"l":0.66608,"c":0.66611,"v":23,"u":3,"d":-2},
{"i":333,"o":0.66606,"h":0.66619,"l":0.66589,"c":0.66605,"v":11,"u":3,"d":-2},
{"i":334,"o":0.66604,"h":0.66658,"l":0.66577,"c":0.66632,"v":65,"u":3,"d":-2},
{"i":335,"o":0.66632,"h":0.66731,"l":0.66616,"c":0.66704,"v":65,"u":3,"d":-2},
{"i":336,"o":0.66704,"h":0.66717,"l":0.66549,"c":0.66680,"v":89,"u":3,"d":-2},
{"i":337,"o":0.66680,"h":0.66709,"l":0.66630,"c":0.66701,"v":104,"u":4,"d":-1},
{"i":338,"o":0.66700,"h":0.66764,"l":0.66673,"c":0.66711,"v":86,"u":3,"d":-2},
{"i":339,"o":0.66711,"h":0.66738,"l":0.66640,"c":0.66683,"v":56,"u":3,"d":-2},
{"i":340,"o":0.66681,"h":0.66704,"l":0.66632,"c":0.66644,"v":74,"u":3,"d":-2},
{"i":341,"o":0.66641,"h":0.66704,"l":0.66595,"c":0.66640,"v":62,"u":3,"d":-2},
{"i":342,"o":0.66638,"h":0.66691,"l":0.66610,"c":0.66658,"v":92,"u":3,"d":-2},
{"i":343,"o":0.66658,"h":0.66706,"l":0.66568,"c":0.66608,"v":131,"u":3,"d":-2},
{"i":344,"o":0.66612,"h":0.66648,"l":0.66549,"c":0.66604,"v":113,"u":3,"d":-2},
{"i":345,"o":0.66605,"h":0.66616,"l":0.66535,"c":0.66598,"v":86,"u":1,"d":-4},
{"i":346,"o":0.66595,"h":0.66651,"l":0.66556,"c":0.66630,"v":77,"u":1,"d":-4},
{"i":347,"o":0.66627,"h":0.66718,"l":0.66603,"c":0.66638,"v":92,"u":1,"d":-4},
{"i":348,"o":0.66638,"h":0.66691,"l":0.66490,"c":0.66553,"v":185,"u":1,"d":-4},
{"i":349,"o":0.66553,"h":0.66669,"l":0.66526,"c":0.66582,"v":158,"u":1,"d":-4},
{"i":350,"o":0.66595,"h":0.66766,"l":0.66584,"c":0.66717,"v":194,"u":2,"d":-3},
{"i":351,"o":0.66713,"h":0.66761,"l":0.66693,"c":0.66737,"v":125,"u":2,"d":-3},
{"i":352,"o":0.66736,"h":0.66824,"l":0.66731,"c":0.66802,"v":86,"u":2,"d":-3},
{"i":353,"o":0.66802,"h":0.66857,"l":0.66766,"c":0.66779,"v":86,"u":3,"d":-2},
{"i":354,"o":0.66766,"h":0.67029,"l":0.66662,"c":0.66858,"v":344,"u":4,"d":-1},
{"i":355,"o":0.66855,"h":0.66859,"l":0.66620,"c":0.66691,"v":236,"u":3,"d":-2},
{"i":356,"o":0.66686,"h":0.66761,"l":0.66680,"c":0.66707,"v":35,"u":3,"d":-2},
{"i":357,"o":0.66688,"h":0.66715,"l":0.66646,"c":0.66697,"v":20,"u":3,"d":-2},
{"i":358,"o":0.66688,"h":0.66704,"l":0.66450,"c":0.66470,"v":155,"u":2,"d":-3},
{"i":359,"o":0.66468,"h":0.66471,"l":0.66400,"c":0.66411,"v":137,"u":2,"d":-3},
{"i":360,"o":0.66411,"h":0.66610,"l":0.66400,"c":0.66499,"v":140,"u":2,"d":-3},
{"i":361,"o":0.66499,"h":0.66740,"l":0.66471,"c":0.66727,"v":191,"u":2,"d":-3},
{"i":362,"o":0.66726,"h":0.66937,"l":0.66708,"c":0.66907,"v":134,"u":3,"d":-2},
{"i":363,"o":0.66917,"h":0.66930,"l":0.66837,"c":0.66867,"v":116,"u":2,"d":-3},
{"i":364,"o":0.66864,"h":0.66963,"l":0.66818,"c":0.66921,"v":128,"u":3,"d":-2},
{"i":365,"o":0.66914,"h":0.66991,"l":0.66883,"c":0.66913,"v":110,"u":4,"d":-1},
{"i":366,"o":0.66911,"h":0.66912,"l":0.66682,"c":0.66753,"v":179,"u":4,"d":-1},
{"i":367,"o":0.66753,"h":0.66759,"l":0.66649,"c":0.66729,"v":188,"u":5,"d":0},
{"i":368,"o":0.66724,"h":0.66737,"l":0.66586,"c":0.66590,"v":146,"u":5,"d":0},
{"i":369,"o":0.66591,"h":0.66761,"l":0.66581,"c":0.66733,"v":119,"u":4,"d":-1},
{"i":370,"o":0.66726,"h":0.66823,"l":0.66702,"c":0.66727,"v":131,"u":4,"d":-1},
{"i":371,"o":0.66726,"h":0.66823,"l":0.66726,"c":0.66786,"v":134,"u":4,"d":-1},
{"i":372,"o":0.66786,"h":0.66807,"l":0.66630,"c":0.66667,"v":236,"u":4,"d":-1},
{"i":373,"o":0.66663,"h":0.66767,"l":0.66539,"c":0.66720,"v":266,"u":4,"d":-1},
{"i":374,"o":0.66720,"h":0.66766,"l":0.66590,"c":0.66693,"v":287,"u":4,"d":-1},
{"i":375,"o":0.66693,"h":0.66799,"l":0.66621,"c":0.66753,"v":212,"u":4,"d":-1},
{"i":376,"o":0.66753,"h":0.67005,"l":0.66751,"c":0.66996,"v":170,"u":5,"d":0},
{"i":377,"o":0.66995,"h":0.67062,"l":0.66956,"c":0.67042,"v":146,"u":5,"d":0},
{"i":378,"o":0.67042,"h":0.67049,"l":0.66923,"c":0.66959,"v":128,"u":5,"d":0},
{"i":379,"o":0.66960,"h":0.66980,"l":0.66901,"c":0.66903,"v":110,"u":5,"d":0},
{"i":380,"o":0.66903,"h":0.66931,"l":0.66896,"c":0.66914,"v":41,"u":5,"d":0},
{"i":381,"o":0.66914,"h":0.66916,"l":0.66899,"c":0.66907,"v":0,"u":5,"d":0},
{"i":382,"o":0.66906,"h":0.66993,"l":0.66900,"c":0.66990,"v":32,"u":5,"d":0},
{"i":383,"o":0.66990,"h":0.67030,"l":0.66948,"c":0.66958,"v":50,"u":5,"d":0},
{"i":384,"o":0.66958,"h":0.67056,"l":0.66941,"c":0.67048,"v":71,"u":5,"d":0},
{"i":385,"o":0.67050,"h":0.67158,"l":0.67036,"c":0.67117,"v":125,"u":5,"d":0},
{"i":386,"o":0.67116,"h":0.67223,"l":0.67056,"c":0.67209,"v":143,"u":5,"d":0},
{"i":387,"o":0.67210,"h":0.67365,"l":0.67207,"c":0.67351,"v":98,"u":5,"d":0},
{"i":388,"o":0.67352,"h":0.67371,"l":0.67311,"c":0.67353,"v":56,"u":5,"d":0},
{"i":389,"o":0.67353,"h":0.67415,"l":0.67332,"c":0.67341,"v":95,"u":5,"d":0},
{"i":390,"o":0.67341,"h":0.67433,"l":0.67305,"c":0.67426,"v":128,"u":5,"d":0},
{"i":391,"o":0.67426,"h":0.67440,"l":0.67303,"c":0.67313,"v":152,"u":5,"d":0},
{"i":392,"o":0.67314,"h":0.67325,"l":0.67233,"c":0.67290,"v":95,"u":5,"d":0},
{"i":393,"o":0.67292,"h":0.67292,"l":0.67223,"c":0.67277,"v":83,"u":5,"d":0},
{"i":394,"o":0.67270,"h":0.67322,"l":0.67259,"c":0.67294,"v":68,"u":5,"d":0},
{"i":395,"o":0.67294,"h":0.67335,"l":0.67203,"c":0.67221,"v":83,"u":4,"d":-1},
{"i":396,"o":0.67225,"h":0.67246,"l":0.66882,"c":0.67047,"v":230,"u":4,"d":-1},
{"i":397,"o":0.67047,"h":0.67335,"l":0.67040,"c":0.67321,"v":254,"u":4,"d":-1},
{"i":398,"o":0.67319,"h":0.67466,"l":0.67259,"c":0.67426,"v":206,"u":4,"d":-1},
{"i":399,"o":0.67426,"h":0.67486,"l":0.67411,"c":0.67456,"v":164,"u":4,"d":-1},
{"i":400,"o":0.67455,"h":0.67541,"l":0.67440,"c":0.67531,"v":116,"u":5,"d":0},
{"i":401,"o":0.67531,"h":0.67563,"l":0.67461,"c":0.67470,"v":92,"u":5,"d":0},
{"i":402,"o":0.67468,"h":0.67568,"l":0.67464,"c":0.67544,"v":92,"u":5,"d":0},
{"i":403,"o":0.67544,"h":0.67544,"l":0.67481,"c":0.67492,"v":62,"u":5,"d":0},
{"i":404,"o":0.67492,"h":0.67522,"l":0.67483,"c":0.67502,"v":32,"u":5,"d":0},
{"i":405,"o":0.67485,"h":0.67514,"l":0.67435,"c":0.67484,"v":8,"u":5,"d":0},
{"i":406,"o":0.67481,"h":0.67547,"l":0.67475,"c":0.67515,"v":56,"u":5,"d":0},
{"i":407,"o":0.67515,"h":0.67547,"l":0.67461,"c":0.67466,"v":74,"u":5,"d":0},
{"i":408,"o":0.67470,"h":0.67530,"l":0.67415,"c":0.67439,"v":95,"u":4,"d":-1},
{"i":409,"o":0.67439,"h":0.67536,"l":0.67397,"c":0.67512,"v":125,"u":4,"d":-1},
{"i":410,"o":0.67512,"h":0.67643,"l":0.67492,"c":0.67630,"v":113,"u":5,"d":0},
{"i":411,"o":0.67629,"h":0.67700,"l":0.67626,"c":0.67689,"v":89,"u":5,"d":0},
{"i":412,"o":0.67688,"h":0.67748,"l":0.67685,"c":0.67735,"v":59,"u":5,"d":0},
{"i":413,"o":0.67735,"h":0.67775,"l":0.67733,"c":0.67741,"v":77,"u":5,"d":0},
{"i":414,"o":0.67741,"h":0.67880,"l":0.67733,"c":0.67856,"v":80,"u":5,"d":0},
{"i":415,"o":0.67859,"h":0.67894,"l":0.67815,"c":0.67822,"v":95,"u":5,"d":0},
{"i":416,"o":0.67819,"h":0.67891,"l":0.67796,"c":0.67850,"v":98,"u":5,"d":0},
{"i":417,"o":0.67850,"h":0.67883,"l":0.67820,"c":0.67876,"v":80,"u":5,"d":0},
{"i":418,"o":0.67873,"h":0.67929,"l":0.67869,"c":0.67915,"v":41,"u":5,"d":0}
],
"arrows":[{"i":41.95,"p":0.67191,"k":"down"},{"i":78.95,"p":0.67200,"k":"up"},{"i":106,"p":0.67112,"k":"down"},{"i":133.95,"p":0.67420,"k":"up"},{"i":153.95,"p":0.67060,"k":"down"},{"i":192,"p":0.66879,"k":"up"},{"i":201,"p":0.66775,"k":"down"},{"i":252,"p":0.65952,"k":"up"},{"i":276,"p":0.66007,"k":"down"},{"i":294,"p":0.66258,"k":"up"},{"i":345,"p":0.66686,"k":"down"},{"i":354,"p":0.66579,"k":"up"}],
"labels":[
{"g":"black","t":"AUDUSD,H1","i":3.7,"p":0.68157},
{"g":"black","t":"forex-station.com","i":-0.05,"p":0.68129},
{"g":"big","t":"1.3","i":465.1,"p":0.68126},
{"g":"gray","t":"Bar Left","i":449.55,"p":0.68065},{"g":"gray","t":"[ 16:02 ]","i":465.1,"p":0.68065},
{"g":"gray","t":"Sydney","i":449.55,"p":0.68029},{"g":"gray","t":"08:43 PM","i":465.1,"p":0.68029},
{"g":"gray","t":"Tokyo","i":449.55,"p":0.67993},{"g":"gray","t":"07:43 PM","i":465.1,"p":0.67993},
{"g":"red","t":"* Berlin","i":449.55,"p":0.67956},{"g":"red","t":"12:43 PM","i":465.1,"p":0.67956},
{"g":"red","t":"* London","i":449.55,"p":0.67920},{"g":"red","t":"11:43 AM","i":465.1,"p":0.67920},
{"g":"gray","t":"New York","i":449.55,"p":0.67884},{"g":"gray","t":"06:43 AM","i":465.1,"p":0.67884},
{"g":"gray","t":"ATR (20): 18 pips","i":465.1,"p":0.67848},
{"g":"white","t":"0.67915","i":468.1,"p":0.67915}
],
"sublabels":[
{"g":"title","t":"Averages slope  TMA (9,18,27,36,45) 2.0000 -2.0000 5.0000 0.0000","i":1.8,"p":5.0},
{"g":"axis","t":"5.7","i":467.9,"p":5.15},
{"g":"axis","t":"-5.7","i":467.9,"p":-5.25}
]},
"vconcat":[
{"width":1867,"height":769,
"encoding":{"x":{"field":"i","type":"quantitative","scale":{"domain":[-0.125,466.625],"nice":false,"zero":false},"axis":null}},
"layer":[
{"data":{"values":[{"a":1}]},"mark":{"type":"rect","color":{"gradient":"linear","x1":0,"y1":0,"x2":0,"y2":1,"stops":[{"offset":0,"color":"#F1F1F1"},{"offset":1,"color":"#D3D3D3"}]}},"encoding":{"x":null}},
{"data":{"name":"d"},
"transform":[{"filter":"datum.v>0"}],
"encoding":{"y":{"field":"v","type":"quantitative","stack":null,"scale":{"domain":[-4,2303],"nice":false,"zero":false},"axis":null}},
"layer":[
{"transform":[{"filter":"datum.c>=datum.o"}],"mark":{"type":"bar","size":3,"xOffset":-1,"color":{"gradient":"linear","x1":0,"y1":0,"x2":0,"y2":1,"stops":[{"offset":0,"color":"#3CEB3C"},{"offset":1,"color":"#C4E4C4"}]}}},
{"transform":[{"filter":"datum.c<datum.o"}],"mark":{"type":"bar","size":3,"xOffset":-1,"color":{"gradient":"linear","x1":0,"y1":0,"x2":0,"y2":1,"stops":[{"offset":0,"color":"#E8A0AC"},{"offset":1,"color":"#E4CCD2"}]}}},
{"transform":[{"filter":"datum.c>=datum.o"}],"mark":{"type":"bar","size":1,"xOffset":-1,"color":{"gradient":"linear","x1":0,"y1":0,"x2":0,"y2":1,"stops":[{"offset":0,"color":"#38A860"},{"offset":1,"color":"#C4E4C4"}]}}},
{"transform":[{"filter":"datum.c<datum.o"}],"mark":{"type":"bar","size":1,"xOffset":-1,"color":{"gradient":"linear","x1":0,"y1":0,"x2":0,"y2":1,"stops":[{"offset":0,"color":"#F0609A"},{"offset":1,"color":"#E4CCD2"}]}}}
]},
{"layer":[
{"data":{"name":"d"},"mark":{"type":"rule","color":"#1F5A10","strokeWidth":1},"encoding":{"y":{"field":"l","type":"quantitative","scale":{"domain":[0.65658,0.68182],"nice":false,"zero":false},"axis":{"orient":"right","title":null,"tickCount":100,"values":[0.6567,0.6578,0.6589,0.66,0.6611,0.6622,0.6633,0.6644,0.6655,0.6666,0.6677,0.6688,0.6699,0.671,0.6721,0.6732,0.6743,0.6754,0.6765,0.6776,0.6787,0.6798,0.6809],"format":".5f","domain":false,"grid":false,"ticks":true,"tickColor":"#000000","tickSize":3,"labelFont":"Liberation Sans","labelFontSize":9.5,"labelColor":"#000000","labelPadding":3,"labelOverlap":false,"labelBound":false,"labelFlush":false}},"y2":{"field":"h"}}},
{"data":{"name":"d"},"mark":{"type":"bar","size":2,"stroke":"#1F5A10","strokeWidth":1},"encoding":{"y":{"field":"o","type":"quantitative","stack":null,"scale":{"domain":[0.65658,0.68182],"nice":false,"zero":false},"axis":{"title":null}},"y2":{"field":"c"},"fill":{"condition":{"test":"datum.c>=datum.o","value":"#3CCC3C"},"value":"#E2603F"}}},
{"data":{"name":"arrows"},"transform":[{"filter":"datum.k=='down'"}],"mark":{"type":"point","filled":true,"opacity":1,"size":144,"color":"#8C4F57","shape":"M1,1 L-0.5,1 L0,0.5 L-1,-0.5 L-0.5,-1 L0.5,0 L1,-0.5 Z"},"encoding":{"y":{"field":"p","type":"quantitative","scale":{"domain":[0.65658,0.68182],"nice":false,"zero":false},"axis":{"title":null}}}},
{"data":{"name":"arrows"},"transform":[{"filter":"datum.k=='up'"}],"mark":{"type":"point","filled":true,"opacity":1,"size":144,"color":"#5C925E","shape":"M1,-1 L-0.5,-1 L0,-0.5 L-1,0.5 L-0.5,1 L0.5,0 L1,0.5 Z"},"encoding":{"y":{"field":"p","type":"quantitative","scale":{"domain":[0.65658,0.68182],"nice":false,"zero":false},"axis":{"title":null}}}},
{"data":{"values":[{"i":467.1,"i2":477.3,"p":0.67932,"p2":0.67899}]},"mark":{"type":"rect","color":"#000000"},"encoding":{"y":{"field":"p","type":"quantitative","scale":{"domain":[0.65658,0.68182],"nice":false,"zero":false},"axis":{"title":null}},"y2":{"field":"p2"},"x2":{"field":"i2"}}},
{"data":{"name":"labels"},"transform":[{"filter":"datum.g=='black'"}],"mark":{"type":"text","align":"left","baseline":"middle","font":"Liberation Sans","fontSize":9.5,"color":"#000000"},"encoding":{"y":{"field":"p","type":"quantitative","scale":{"domain":[0.65658,0.68182],"nice":false,"zero":false},"axis":{"title":null}},"text":{"field":"t"}}},
{"data":{"name":"labels"},"transform":[{"filter":"datum.g=='big'"}],"mark":{"type":"text","align":"right","baseline":"middle","font":"Liberation Sans","fontSize":28,"fontWeight":"bold","color":"#808080"},"encoding":{"y":{"field":"p","type":"quantitative","scale":{"domain":[0.65658,0.68182],"nice":false,"zero":false},"axis":{"title":null}},"text":{"field":"t"}}},
{"data":{"name":"labels"},"transform":[{"filter":"datum.g=='gray'"}],"mark":{"type":"text","align":"right","baseline":"middle","font":"Liberation Sans","fontSize":9.5,"color":"#999999"},"encoding":{"y":{"field":"p","type":"quantitative","scale":{"domain":[0.65658,0.68182],"nice":false,"zero":false},"axis":{"title":null}},"text":{"field":"t"}}},
{"data":{"name":"labels"},"transform":[{"filter":"datum.g=='red'"}],"mark":{"type":"text","align":"right","baseline":"middle","font":"Liberation Sans","fontSize":9.5,"color":"#FF0000"},"encoding":{"y":{"field":"p","type":"quantitative","scale":{"domain":[0.65658,0.68182],"nice":false,"zero":false},"axis":{"title":null}},"text":{"field":"t"}}},
{"data":{"name":"labels"},"transform":[{"filter":"datum.g=='white'"}],"mark":{"type":"text","align":"left","baseline":"middle","font":"Liberation Sans","fontSize":9.5,"color":"#FFFFFF"},"encoding":{"y":{"field":"p","type":"quantitative","scale":{"domain":[0.65658,0.68182],"nice":false,"zero":false},"axis":{"title":null}},"text":{"field":"t"}}}
]}
],
"resolve":{"scale":{"y":"independent"}}},
{"width":1867,"height":137,
"view":{"fill":"#D2D2D2"},
"encoding":{"x":{"field":"i","type":"quantitative","scale":{"domain":[-0.125,466.625],"nice":false,"zero":false},"axis":{"title":null,"values":[0,16,32,48,64,80,96,112,128,144,160,176,192,208,224,240,256,272,288,304,320,336,352,368,384,400,416],"labelExpr":"['13 Apr 2023','13 Apr 19:00','14 Apr 11:00','17 Apr 03:00','17 Apr 19:00','18 Apr 11:00','19 Apr 03:00','19 Apr 19:00','20 Apr 11:00','21 Apr 03:00','21 Apr 19:00','24 Apr 11:00','25 Apr 03:00','25 Apr 19:00','26 Apr 11:00','27 Apr 03:00','27 Apr 19:00','28 Apr 11:00','1 May 03:00','1 May 19:00','2 May 11:00','3 May 03:00','3 May 19:00','4 May 11:00','5 May 03:00','5 May 19:00','8 May 11:00'][datum.value/16]","labelAlign":"left","labelOffset":-1,"labelBaseline":"top","labelPadding":3,"labelFont":"Liberation Sans","labelFontSize":9.5,"labelColor":"#000000","tickColor":"#000000","tickSize":3,"domain":false,"grid":false,"labelOverlap":false,"labelFlush":false,"labelBound":false}}},
"layer":[
{"data":{"name":"d"},"transform":[{"filter":"datum.u>0"}],"mark":{"type":"bar","size":3,"xOffset":-1,"color":"#6BA66B"},"encoding":{"y":{"field":"u","type":"quantitative","stack":null,"scale":{"domain":[-5.77,5.74],"nice":false,"zero":false},"axis":{"orient":"right","title":null,"tickCount":100,"values":[5.7,2,0,-2,-5.7],"labelExpr":"abs(datum.value)>5?'':(datum.value==0?'0.00':format(datum.value,'d'))","domain":false,"grid":false,"tickColor":"#000000","tickSize":3,"labelFont":"Liberation Sans","labelFontSize":9.5,"labelColor":"#000000","labelPadding":3,"labelOverlap":false,"labelBound":false,"labelFlush":false}}}},
{"data":{"name":"d"},"transform":[{"filter":"datum.d<0"}],"mark":{"type":"bar","size":3,"xOffset":-1,"color":"#A56666"},"encoding":{"y":{"field":"d","type":"quantitative","stack":null,"scale":{"domain":[-5.77,5.74],"nice":false,"zero":false},"axis":{"title":null}}}},
{"data":{"values":[{"y":2},{"y":0},{"y":-2}]},"mark":{"type":"rule","color":"#808080","strokeWidth":1,"strokeDash":[3,3]},"encoding":{"x":null,"y":{"field":"y","type":"quantitative","scale":{"domain":[-5.77,5.74],"nice":false,"zero":false},"axis":{"title":null}}}},
{"data":{"name":"sublabels"},"transform":[{"filter":"datum.g=='title'"}],"mark":{"type":"text","align":"left","baseline":"middle","font":"Liberation Sans","fontSize":9.5,"color":"#000000"},"encoding":{"y":{"field":"p","type":"quantitative","scale":{"domain":[-5.77,5.74],"nice":false,"zero":false},"axis":{"title":null}},"text":{"field":"t"}}},
{"data":{"name":"sublabels"},"transform":[{"filter":"datum.g=='axis'"}],"mark":{"type":"text","align":"left","baseline":"middle","font":"Liberation Sans","fontSize":9.5,"color":"#000000"},"encoding":{"y":{"field":"p","type":"quantitative","scale":{"domain":[-5.77,5.74],"nice":false,"zero":false},"axis":{"title":null}},"text":{"field":"t"}}}
]}
]}
